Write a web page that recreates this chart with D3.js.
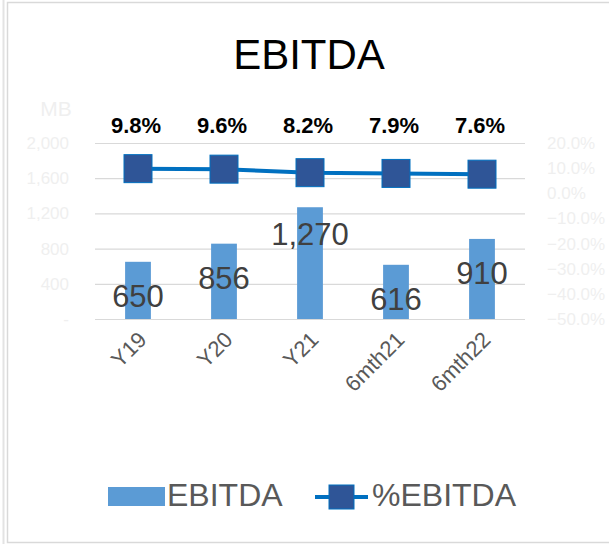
<!DOCTYPE html>
<html>
<head>
<meta charset="utf-8">
<script src="https://cdn.jsdelivr.net/npm/d3@7"></script>
<style>
body { margin: 0; background: #fff; }
svg { display: block; font-family: "Liberation Sans", Arial, sans-serif; }
</style>
</head>
<body>
<svg id="chart" width="609" height="544"></svg>
<script>
// data
var categories = ["Y19", "Y20", "Y21", "6mth21", "6mth22"];
var ebitda = [650, 856, 1270, 616, 910];
var pctEbitda = [9.8, 9.6, 8.2, 7.9, 7.6];
var leftTicks = [0, 400, 800, 1200, 1600, 2000];
var rightTicks = [-50, -40, -30, -20, -10, 0, 10, 20];

var svg = d3.select("#chart");

// frame
svg.append("line").attr("x1", 3.5).attr("x2", 3.5).attr("y1", 0).attr("y2", 544)
	.style("stroke", "#e3e3e3").style("stroke-width", 2);
svg.append("rect").attr("x", 7.5).attr("y", 2.5).attr("width", 620).attr("height", 540)
	.style("fill", "none").style("stroke", "#d9d9d9").style("stroke-width", 1.5);

var x = d3.scaleBand().domain(categories).range([95, 525])
	.paddingInner(0.7).paddingOuter(0.35);
var yL = d3.scaleLinear().domain([0, 2000]).range([319, 143]);
var yR = d3.scaleLinear().domain([-50, 20]).range([319, 143]);

// title
svg.append("text").attr("x", 309).attr("y", 69)
	.style("text-anchor", "middle").style("font-size", "42px").style("fill", "#000")
	.text("EBITDA");

// grid
svg.append("g").attr("transform", "translate(525,0)")
	.call(d3.axisLeft(yL).tickValues(leftTicks.slice(1)).tickSize(430).tickFormat(""))
	.call(function(g){ g.select(".domain").remove(); })
	.selectAll("line").style("stroke", "#d9d9d9").style("stroke-width", 1.2);

// left axis labels
svg.append("g").attr("transform", "translate(69,0)")
	.call(d3.axisLeft(yL).tickValues(leftTicks).tickSize(0)
		.tickFormat(function(d){ return d === 0 ? "-" : d3.format(",")(d); }))
	.call(function(g){ g.select(".domain").remove(); })
	.selectAll("text").attr("x", 0).style("font-size", "17px").style("fill", "#efefef")
	.style("font-family", "Liberation Sans, Arial, sans-serif");

svg.append("text").attr("x", 56).attr("y", 116).style("text-anchor", "middle")
	.style("font-size", "21px").style("fill", "#efefef").text("MB");

// right axis labels
svg.append("g").attr("transform", "translate(547,0)")
	.call(d3.axisRight(yR).tickValues(rightTicks).tickSize(0)
		.tickFormat(function(d){ return d3.format(".1f")(d) + "%"; }))
	.call(function(g){ g.select(".domain").remove(); })
	.selectAll("text").attr("x", 0).style("font-size", "17px").style("fill", "#efefef")
	.style("font-family", "Liberation Sans, Arial, sans-serif");

// bars
svg.append("g").selectAll("rect")
	.data(ebitda)
	.enter()
	.append("rect")
	.attr("x", function(d, i){ return x(categories[i]); })
	.attr("width", x.bandwidth())
	.attr("y", function(d){ return yL(d); })
	.attr("height", function(d){ return yL(0) - yL(d); })
	.style("fill", "#5b9bd5");

// baseline
svg.append("line").attr("x1", 95).attr("x2", 525).attr("y1", 319.5).attr("y2", 319.5)
	.style("stroke", "#d9d9d9").style("stroke-width", 1.2);

// bar labels
svg.append("g").selectAll("text")
	.data(ebitda)
	.enter()
	.append("text")
	.attr("x", function(d, i){ return x(categories[i]) + x.bandwidth() / 2; })
	.attr("y", function(d){ return d > 1000 ? yL(d) + 38 : yL(d) + 45; })
	.style("text-anchor", "middle").style("font-size", "31px").style("fill", "#404040")
	.text(function(d){ return d3.format(",")(d); });

// x labels
svg.append("g").selectAll("text")
	.data(categories)
	.enter()
	.append("text")
	.attr("transform", function(d){
		return "translate(" + (x(d) + x.bandwidth() / 2 + 10) + ",341)rotate(-45)"; })
	.style("text-anchor", "end").style("font-size", "22px").style("fill", "#595959")
	.text(function(d){ return d; });

// line
var cx = function(i){ return x(categories[i]) + x.bandwidth() / 2; };
var line = d3.line()
	.x(function(d, i){ return cx(i); })
	.y(function(d){ return yR(d); });
svg.append("path").datum(pctEbitda).attr("d", line)
	.style("fill", "none").style("stroke", "#0070c0").style("stroke-width", 4);

svg.append("g").selectAll("rect")
	.data(pctEbitda)
	.enter()
	.append("rect")
	.attr("x", function(d, i){ return cx(i) - 14; })
	.attr("y", function(d){ return yR(d) - 14; })
	.attr("width", 28).attr("height", 28)
	.style("fill", "#2f5597").style("stroke", "#0070c0").style("stroke-width", 1);

svg.append("g").selectAll("text")
	.data(pctEbitda)
	.enter()
	.append("text")
	.attr("x", function(d, i){ return cx(i) - 2; })
	.attr("y", 133)
	.style("text-anchor", "middle").style("font-size", "22px").style("font-weight", "bold")
	.style("fill", "#000")
	.text(function(d){ return d3.format(".1f")(d) + "%"; });

// legend
var lg = svg.append("g");
lg.append("rect").attr("x", 108).attr("y", 487).attr("width", 57).attr("height", 19)
	.style("fill", "#5b9bd5");
lg.append("text").attr("x", 167).attr("y", 506).style("font-size", "32px").style("fill", "#595959")
	.text("EBITDA");
lg.append("line").attr("x1", 315).attr("x2", 368).attr("y1", 497).attr("y2", 497)
	.style("stroke", "#0070c0").style("stroke-width", 4);
lg.append("rect").attr("x", 329).attr("y", 485).attr("width", 25).attr("height", 24)
	.style("fill", "#2f5597").style("stroke", "#0070c0");
lg.append("text").attr("x", 372).attr("y", 506).style("font-size", "32px").style("fill", "#595959")
	.text("%EBITDA");
</script>
</body>
</html>
